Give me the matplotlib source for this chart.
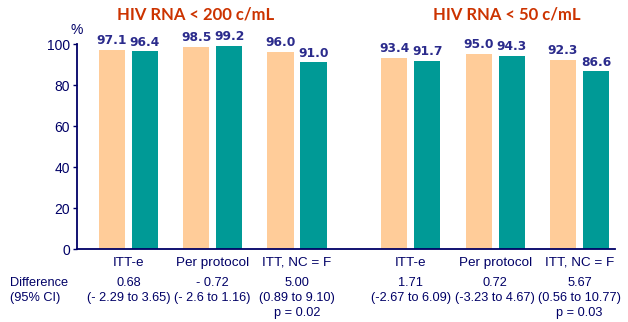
#!/usr/bin/env python3
"""HIV RNA response bars: ITT-e, per protocol, ITT NC=F at two thresholds."""

import matplotlib

matplotlib.use("Agg")
import matplotlib.pyplot as plt  # noqa: E402
import numpy as np  # noqa: E402

categories = ["ITT-e", "Per protocol", "ITT, NC = F",
              "ITT-e", "Per protocol", "ITT, NC = F"]
arm_a = [97.1, 98.5, 96.0, 93.4, 95.0, 92.3]
arm_b = [96.4, 99.2, 91.0, 91.7, 94.3, 86.6]
diffs = ["0.68", "- 0.72", "5.00", "1.71", "0.72", "5.67"]
cis = ["(- 2.29 to 3.65)", "(- 2.6 to 1.16)", "(0.89 to 9.10)",
       "(-2.67 to 6.09)", "(-3.23 to 4.67)", "(0.56 to 10.77)"]
pvals = ["", "", "p = 0.02", "", "", "p = 0.03"]
panel_titles = ["HIV RNA < 200 c/mL", "HIV RNA < 50 c/mL"]
yticks = [0, 20, 40, 60, 80, 100]

PEACH = "#FFCC99"
TEAL = "#009A96"
NAVY = "#000066"
LABEL = "#2B2B8C"
TITLE = "#CC3300"

plt.rcParams["font.family"] = ["Liberation Sans", "DejaVu Sans"]

fig = plt.figure(figsize=(6.28, 3.22), dpi=100)
ax = fig.add_axes([0.1226, 0.2267, 0.8564, 0.6366])

x = np.array([0, 1, 2, 3.35, 4.35, 5.35])
w = 0.31
off = 0.196
ax.bar(x - off, arm_a, w, color=PEACH)
ax.bar(x + off, arm_b, w, color=TEAL)

for xi, a, b in zip(x, arm_a, arm_b):
    for xx, v in ((xi - off, a), (xi + off, b)):
        ax.annotate(f"{v:.1f}", (xx, v), xytext=(0, 2), textcoords="offset points",
                    ha="center", va="bottom", fontsize=8.8, fontweight="bold",
                    color=LABEL, family=["DejaVu Sans"])

ax.set_xlim(-0.61, 5.77)
ax.set_ylim(0, 100)
ax.set_yticks(yticks)
ax.set_xticks([])
for s in ("top", "right"):
    ax.spines[s].set_visible(False)
ax.spines["left"].set_color(NAVY)
ax.spines["bottom"].set_color(NAVY)
ax.spines["left"].set_linewidth(1.3)
ax.spines["bottom"].set_linewidth(1.3)
ax.tick_params(axis="y", colors=NAVY, labelsize=10, length=3, width=1, pad=2)
ax.text(0, 1.035, "%", transform=ax.transAxes, ha="center", va="bottom",
        fontsize=10, color=NAVY)

trans = ax.get_xaxis_transform()
for xi, c, d, ci, p in zip(x, categories, diffs, cis, pvals):
    ax.text(xi, -0.068, c, transform=trans, ha="center", va="center",
            fontsize=9.7, color=NAVY)
    ax.text(xi, -0.166, d, transform=trans, ha="center", va="center",
            fontsize=9.2, color=NAVY)
    ax.text(xi, -0.239, ci, transform=trans, ha="center", va="center",
            fontsize=9.2, color=NAVY)
    if p:
        ax.text(xi, -0.312, p, transform=trans, ha="center", va="center",
                fontsize=9.2, color=NAVY)

fig.text(10 / 628, 1 - 283 / 322, "Difference", ha="left", va="center",
         fontsize=9.2, color=NAVY)
fig.text(10 / 628, 1 - 298 / 322, "(95% CI)", ha="left", va="center",
         fontsize=9.2, color=NAVY)

for cx, t in zip([196, 507], panel_titles):
    fig.text(cx / 628, 1 - 14 / 322, t, ha="center", va="center",
             fontsize=12, fontweight="bold", color=TITLE,
             family=["Lato", "DejaVu Sans"])

fig.savefig("out.png", dpi=100)
